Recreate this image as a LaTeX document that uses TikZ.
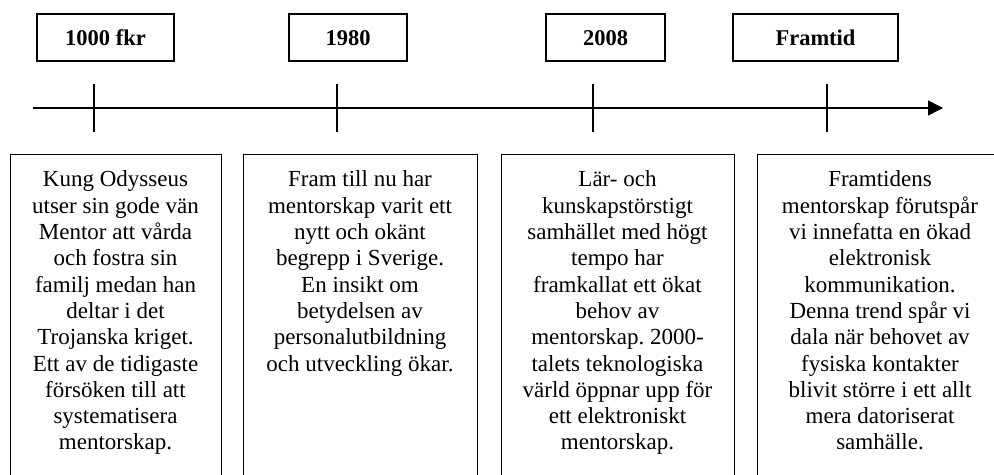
\documentclass[tikz,border=0pt]{standalone}
\usepackage{fontspec}
\setmainfont{Liberation Serif}
\usetikzlibrary{arrows.meta}
\frenchspacing
\begin{document}
\begin{tikzpicture}[x=1bp,y=-1bp,
  datebox/.style={draw,line width=1.4bp,inner sep=0pt,text height=17bp,text depth=0bp,font=\fontsize{22.5bp}{26bp}\selectfont\bfseries},
  infobox/.style={draw,line width=1.4bp,inner sep=0pt,anchor=north west},
  infotext/.style={anchor=north,inner sep=0pt,align=center,font=\fontsize{23bp}{26.3bp}\selectfont},
  axis/.style={line width=1.7bp},
  tick/.style={line width=1.6bp}]
\useasboundingbox (0,0) rectangle (994,475);

% date labels above the axis
\node[datebox,minimum width=137bp,minimum height=47bp] (d1) at (105.5,37.5) {1000 fkr};
\node[datebox,minimum width=118bp,minimum height=47bp] (d2) at (348,37.5) {1980};
\node[datebox,minimum width=119bp,minimum height=47bp] (d3) at (605.5,37.5) {2008};
\node[datebox,minimum width=165bp,minimum height=47bp] (d4) at (815.5,37.5) {Framtid};

% time axis with tick marks
\coordinate (a0) at (33,108);
\coordinate (a1) at (943,108);
\draw[axis,-{Triangle[length=15bp,width=15bp]}] (a0) -- (a1);
\foreach \n/\x in {1/94,2/337,3/593,4/827}{
  \coordinate (t\n top) at (\x,84);
  \coordinate (t\n bot) at (\x,132);
  \draw[tick] (t\n top) -- (t\n bot);
}

% description panels (they run past the lower edge)
\node[infobox,minimum width=211bp,minimum height=340bp] (b1) at (10,154) {};
\node[infobox,minimum width=234bp,minimum height=340bp] (b2) at (243,154) {};
\node[infobox,minimum width=233bp,minimum height=340bp] (b3) at (501,154) {};
\node[infobox,minimum width=250bp,minimum height=340bp] (b4) at (757,154) {};

\node[infotext] (p1) at (115.5,168.3) {\strut Kung Odysseus\\utser sin gode vän\\Mentor att vårda\\och fostra sin\\familj medan han\\deltar i det\\Trojanska kriget.\\Ett av de tidigaste\\försöken till att\\systematisera\\mentorskap.};
\node[infotext] (p2) at (360,168.3) {\strut Fram till nu har\\mentorskap varit ett\\nytt och okänt\\begrepp i Sverige.\\En insikt om\\betydelsen av\\personalutbildning\\och utveckling ökar.};
\node[infotext] (p3) at (617.5,168.3) {\strut Lär- och\\kunskapstörstigt\\samhället med högt\\tempo har\\framkallat ett ökat\\behov av\\mentorskap. 2000-\\talets teknologiska\\värld öppnar upp för\\ett elektroniskt\\mentorskap.};
\node[infotext] (p4) at (880,168.3) {\strut Framtidens\\mentorskap förutspår\\vi innefatta en ökad\\elektronisk\\kommunikation.\\Denna trend spår vi\\dala när behovet av\\fysiska kontakter\\blivit större i ett allt\\mera datoriserat\\samhälle.};
\end{tikzpicture}
\end{document}
